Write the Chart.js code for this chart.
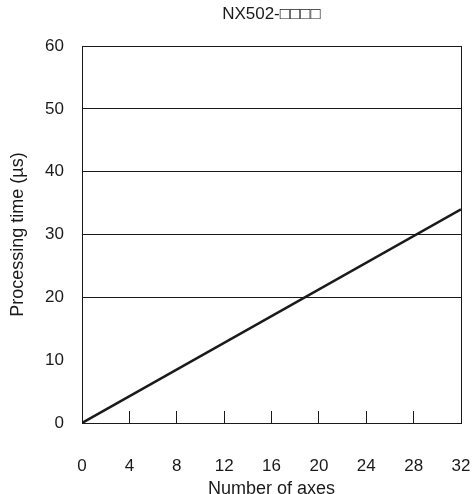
<!DOCTYPE html>
<html>
<head>
  <meta charset="UTF-8">
  <title>NX502 processing time</title>
  <script src="https://cdn.jsdelivr.net/npm/chart.js"></script>
  <style>
    html, body {
      margin: 0;
      padding: 0;
      background: #fff;
      overflow: hidden;
    }
    .wrap {
      width: 475px;
      height: 500px;
    }
  </style>
</head>
<body>
  <div class="wrap">
    <canvas id="chart" width="475" height="500"></canvas>
  </div>

  <script>
    // datos
    const axes = [0, 32];
    const timeUs = [0, 34];
    const xTicks = [0, 4, 8, 12, 16, 20, 24, 28, 32];
    const yTicks = [0, 10, 20, 30, 40, 50, 60];

    const ink = '#1a1a1a';
    const fontFam = 'Arial, "Liberation Sans", sans-serif';

    const ctx = document.getElementById('chart').getContext('2d');

    new Chart(ctx, {
      type: 'line',
      data: {
        datasets: [{
          data: axes.map((a, i) => ({ x: a, y: timeUs[i] })),
          borderColor: ink,
          borderWidth: 2.5,
          pointRadius: 0,
          fill: false,
          tension: 0
        }]
      },
      options: {
        responsive: false,
        animation: false,
        layout: {
          padding: { left: 0, right: 14, top: 0, bottom: 0 }
        },
        plugins: {
          legend: { display: false },
          tooltip: { enabled: false },
          title: {
            display: true,
            text: 'NX502-□□□□',
            fullSize: false,
            color: ink,
            font: { family: fontFam, size: 17, weight: 'normal' },
            padding: { top: 4, bottom: 21.6 }
          }
        },
        scales: {
          x: {
            type: 'linear',
            min: 0,
            max: 32,
            afterBuildTicks: s => { s.ticks = xTicks.map(v => ({ value: v })); },
            afterFit: s => {
              s.height = 500 - 423;
              s.paddingLeft = 0;
              s.paddingRight = 0;
            },
            border: { display: true, color: ink, width: 1 },
            grid: {
              drawOnChartArea: true,
              drawTicks: true,
              tickLength: -12,
              color: c => (c.tick && c.tick.value === 32) ? ink : 'rgba(0,0,0,0)',
              tickColor: ink,
              lineWidth: 1
            },
            ticks: {
              color: ink,
              padding: 45,
              maxRotation: 0,
              font: { family: fontFam, size: 17 }
            },
            title: {
              display: true,
              text: 'Number of axes',
              color: ink,
              font: { family: fontFam, size: 18 },
              padding: { top: 0, bottom: 0 }
            }
          },
          y: {
            min: 0,
            max: 60,
            afterBuildTicks: s => { s.ticks = yTicks.map(v => ({ value: v })); },
            afterFit: s => { s.width = 82; },
            border: { display: true, color: ink, width: 1 },
            grid: {
              drawTicks: false,
              color: c => (c.tick && c.tick.value >= 20) ? ink : 'rgba(0,0,0,0)',
              lineWidth: 1
            },
            ticks: {
              color: ink,
              padding: 18,
              font: { family: fontFam, size: 17 }
            },
            title: {
              display: true,
              text: 'Processing time (µs)',
              color: ink,
              font: { family: fontFam, size: 18 },
              padding: { top: 7, bottom: 0 }
            }
          }
        }
      }
    });
  </script>
</body>
</html>
